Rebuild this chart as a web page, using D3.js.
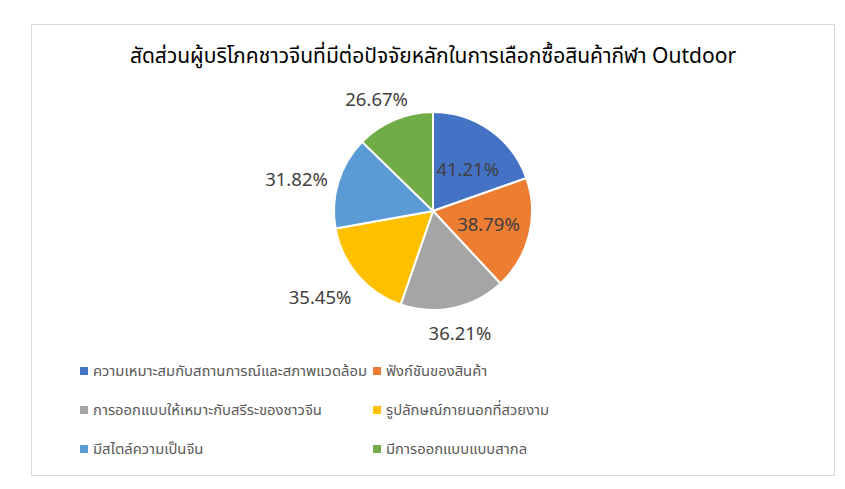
<!DOCTYPE html>
<html><head><meta charset="utf-8">
<script src="https://cdn.jsdelivr.net/npm/d3@7"></script>
<style>body{margin:0;background:#fff}</style>
</head><body>
<svg id="c" width="845" height="489"></svg>
<script>
const title = "สัดส่วนผู้บริโภคชาวจีนที่มีต่อปัจจัยหลักในการเลือกซื้อสินค้ากีฬา Outdoor";
const categories = [
  "ความเหมาะสมกับสถานการณ์และสภาพแวดล้อม",
  "ฟังก์ชันของสินค้า",
  "การออกแบบให้เหมาะกับสรีระของชาวจีน",
  "รูปลักษณ์ภายนอกที่สวยงาม",
  "มีสไตล์ความเป็นจีน",
  "มีการออกแบบแบบสากล"
];
const values = [41.21, 38.79, 36.21, 35.45, 31.82, 26.67];
const colors = ["#4472c4", "#ed7d31", "#a5a5a5", "#ffc000", "#5b9bd5", "#70ad47"];

const FONT = "Tahoma, 'Leelawadee UI', 'Noto Sans Thai', 'Noto Sans', sans-serif";
const svg = d3.select("#c");
svg.append("rect").attr("x", 31.5).attr("y", 24.5).attr("width", 803).attr("height", 451)
  .attr("fill", "#fff").attr("stroke", "#d9d9d9");

svg.append("text").attr("x", 433).attr("y", 63).attr("text-anchor", "middle")
  .attr("font-family", FONT).attr("font-size", 21).attr("fill", "#000").text(title);

const cx = 433, cy = 211, R = 99;
const pie = d3.pie().sort(null).value(d => d)(values);
const arc = d3.arc().innerRadius(0).outerRadius(R);
const g = svg.append("g").attr("transform", `translate(${cx},${cy})`);
g.selectAll("path").data(pie).join("path")
  .attr("d", arc).attr("fill", (d, i) => colors[i])
  .attr("stroke", "#fff").attr("stroke-width", 2);

// best-fit style label placement: radius and small angular nudge (degrees) per slice
const labelR = [54, 57, 125, 142.5, 140, 124.5];
const labelShift = [4.7, -0.6, -0.5, 3, -4.2, -4.1];
const fmt = v => v.toFixed(2) + "%";
g.selectAll("text.lbl").data(pie).join("text").attr("class", "lbl")
  .attr("transform", (d, i) => {
    const a = (d.startAngle + d.endAngle) / 2 + labelShift[i] * Math.PI / 180;
    const x = Math.sin(a) * labelR[i], y = -Math.cos(a) * labelR[i];
    return `translate(${x},${y})`;
  })
  .attr("text-anchor", "middle").attr("dy", "0.35em")
  .attr("font-family", FONT).attr("font-size", 18.5).attr("fill", "#404040")
  .text(d => fmt(d.data));

// legend
const legX = [80, 373], legY = [371, 410, 449];
const lg = svg.append("g");
categories.forEach((c, i) => {
  const x = legX[i % 2], y = legY[Math.floor(i / 2)];
  lg.append("rect").attr("x", x).attr("y", y - 4).attr("width", 8).attr("height", 8).attr("fill", colors[i]);
  lg.append("text").attr("x", x + 13).attr("y", y).attr("dy", "0.35em")
    .attr("font-family", FONT).attr("font-size", 14.8).attr("fill", "#595959").text(c);
});
</script>
</body></html>
